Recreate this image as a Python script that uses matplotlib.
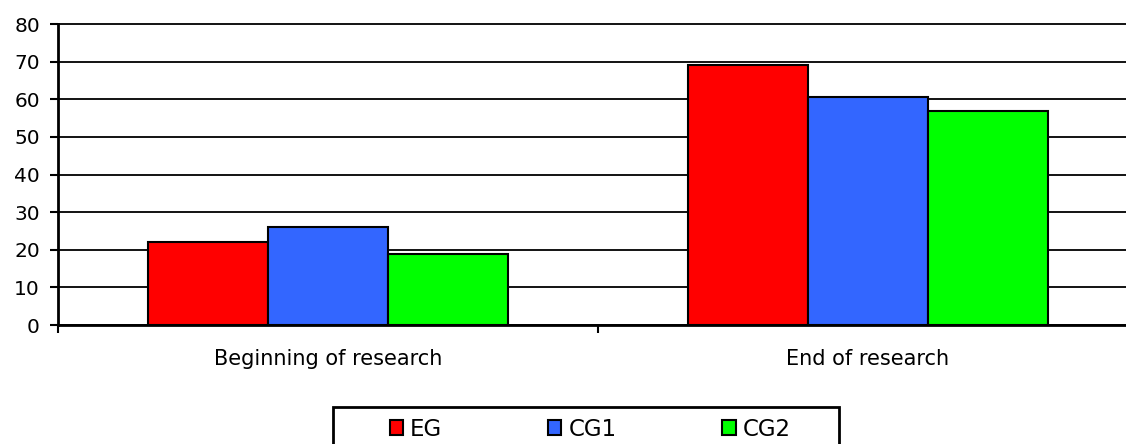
import matplotlib
matplotlib.use('Agg')
import matplotlib.pyplot as plt
import numpy as np
from matplotlib.patches import Rectangle

categories = ['Beginning of research', 'End of research']
groups = ['EG', 'CG1', 'CG2']
eg_values = [22, 69]
cg1_values = [26, 60.5]
cg2_values = [19, 57]
colors = ['#FF0000', '#3366FF', '#00FF00']
y_ticks = [0, 10, 20, 30, 40, 50, 60, 70, 80]

fig = plt.figure(figsize=(11.26, 4.44), dpi=100)
# axes runs slightly past the right edge, like the original export
ax = fig.add_axes([58 / 1126, 119 / 444, 1080 / 1126, 301 / 444])

x = np.arange(len(categories))
width = 0.2222
series = [eg_values, cg1_values, cg2_values]
for i, (name, vals) in enumerate(zip(groups, series)):
    ax.bar(x + (i - 1) * width, vals, width, color=colors[i], edgecolor='black',
           linewidth=1.5, label=name, zorder=3)

ax.set_xlim(-0.5, 1.5)
ax.set_ylim(0, 80)
ax.set_yticks(y_ticks)
ax.yaxis.grid(True, color='black', linewidth=1.3, zorder=0)
ax.set_axisbelow(True)
for gl in ax.get_ygridlines():
    gl.set_clip_on(False)

# boundary ticks without labels, category labels on minor ticks
ax.set_xticks([-0.5, 0.5, 1.5])
ax.set_xticklabels([])
ax.set_xticks(x, minor=True)
ax.set_xticklabels(categories, minor=True, fontsize=15)
ax.tick_params(axis='x', which='major', direction='out', length=6, width=1.5)
ax.tick_params(axis='x', which='minor', length=0, pad=17)
ax.tick_params(axis='y', direction='out', length=6, width=1.5, labelsize=14.5, pad=7)

for side in ['top', 'right']:
    ax.spines[side].set_visible(False)
ax.spines['left'].set_linewidth(2)
ax.spines['bottom'].set_linewidth(2)
ax.spines['bottom'].set_zorder(4)

handles, labels = ax.get_legend_handles_labels()
leg = fig.legend(handles, labels, loc='center', bbox_to_anchor=(590 / 1126, 1 - 429 / 444),
                 ncol=3, frameon=False, fontsize=16.5, handlelength=0.6, handleheight=0.6,
                 handletextpad=0.3, columnspacing=4.6)

# legend frame, cut off by the bottom edge as in the original
fig.patches.append(Rectangle((333 / 1126, -0.05), (839 - 333) / 1126, 0.05 + (444 - 407) / 444,
                             transform=fig.transFigure, fill=False, edgecolor='black',
                             linewidth=2))

fig.savefig('out.png', dpi=100)
